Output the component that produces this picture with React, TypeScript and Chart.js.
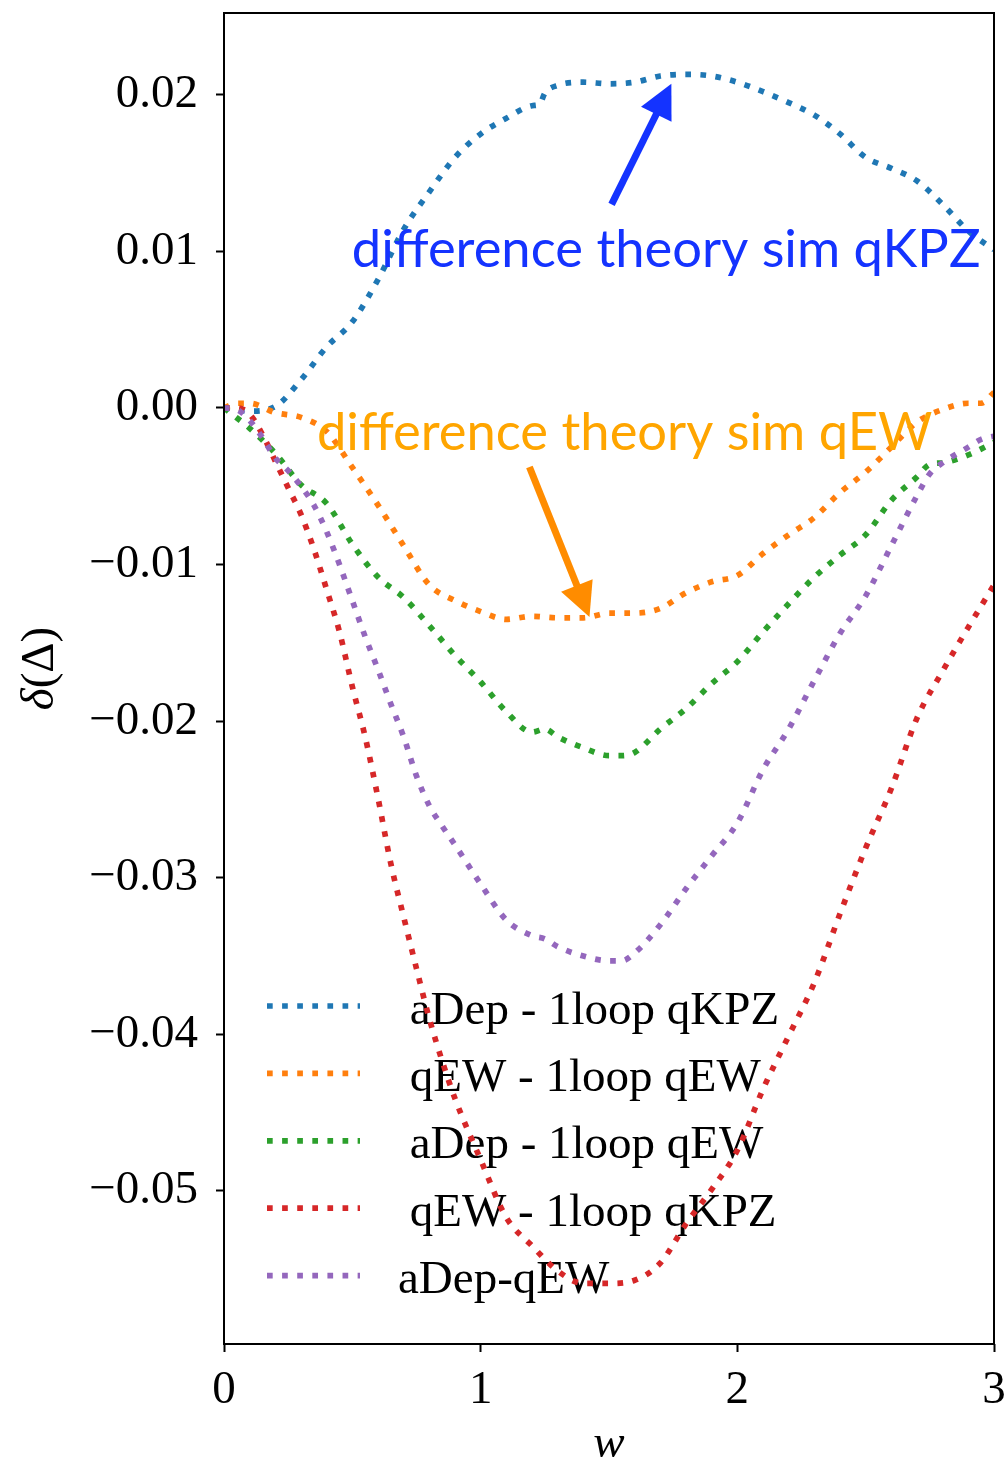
import React, { useEffect, useRef } from "react";
import { Chart, registerables } from "chart.js";

Chart.register(...registerables);

// aDep - 1loop qKPZ
const kpzDepW = [0, 0.1, 0.2, 0.3, 0.4, 0.5, 0.6, 0.7, 0.8, 0.9, 1.0, 1.1, 1.2, 1.23, 1.25, 1.3, 1.4, 1.5, 1.6, 1.7, 1.8, 1.9, 2.0, 2.1, 2.2, 2.3, 2.4, 2.5, 2.6, 2.7, 2.8, 2.9, 3.0];
const kpzDepDelta = [0, -0.0002, 0.0001, 0.0018, 0.0039, 0.0055, 0.0082, 0.0114, 0.0138, 0.016, 0.0175, 0.0185, 0.0193, 0.0194, 0.0201, 0.0206, 0.0208, 0.0207, 0.0208, 0.0212, 0.0213, 0.0212, 0.0208, 0.0202, 0.0195, 0.0187, 0.0175, 0.016, 0.0153, 0.0145, 0.013, 0.0113, 0.0101];

// qEW - 1loop qEW
const qewQewW = [0, 0.05, 0.1, 0.2, 0.3, 0.4, 0.5, 0.6, 0.7, 0.8, 0.9, 1.0, 1.1, 1.2, 1.3, 1.4, 1.5, 1.6, 1.7, 1.8, 1.9, 2.0, 2.1, 2.2, 2.3, 2.4, 2.5, 2.6, 2.7, 2.8, 2.9, 2.95, 3.0];
const qewQewDelta = [0, 0.0003, 0.0003, -0.0003, -0.0006, -0.0015, -0.0038, -0.0062, -0.0088, -0.0113, -0.0123, -0.013, -0.0135, -0.0133, -0.0134, -0.0134, -0.0131, -0.0131, -0.0128, -0.0118, -0.0111, -0.0107, -0.0093, -0.0081, -0.007, -0.0054, -0.0041, -0.0025, -0.0009, -0.0001, 0.0003, 0.0003, 0.001];

// aDep - 1loop qEW
const depQewW = [0, 0.1, 0.2, 0.3, 0.4, 0.5, 0.6, 0.7, 0.8, 0.9, 1.0, 1.1, 1.2, 1.25, 1.3, 1.4, 1.5, 1.55, 1.6, 1.7, 1.8, 1.9, 2.0, 2.1, 2.2, 2.3, 2.4, 2.5, 2.6, 2.7, 2.75, 2.8, 2.9, 3.0];
const depQewDelta = [0, -0.0013, -0.0029, -0.0049, -0.0061, -0.0087, -0.0108, -0.0121, -0.0139, -0.0158, -0.0175, -0.0194, -0.0207, -0.0205, -0.021, -0.0217, -0.0222, -0.0222, -0.022, -0.0205, -0.0192, -0.0176, -0.0162, -0.0143, -0.0125, -0.0108, -0.0094, -0.0081, -0.0059, -0.0044, -0.0036, -0.0035, -0.003, -0.0022];

// qEW - 1loop qKPZ
const qewKpzW = [0, 0.05, 0.1, 0.15, 0.2, 0.25, 0.3, 0.35, 0.4, 0.45, 0.5, 0.55, 0.6, 0.65, 0.7, 0.75, 0.8, 0.85, 0.9, 1.0, 1.1, 1.2, 1.3, 1.4, 1.5, 1.6, 1.7, 1.8, 1.9, 2.0, 2.1, 2.2, 2.3, 2.4, 2.5, 2.6, 2.7, 2.8, 2.9, 3.0];
const qewKpzDelta = [0, 0, -0.0004, -0.0017, -0.0034, -0.0051, -0.0068, -0.009, -0.0116, -0.0143, -0.0178, -0.021, -0.0249, -0.0291, -0.0325, -0.0358, -0.039, -0.0417, -0.0441, -0.048, -0.0517, -0.0535, -0.0551, -0.0559, -0.0559, -0.0557, -0.0546, -0.0521, -0.0499, -0.0474, -0.0435, -0.0401, -0.0367, -0.0323, -0.0281, -0.0243, -0.0198, -0.0168, -0.014, -0.0113];

// aDep-qEW
const depEwW = [0, 0.05, 0.1, 0.15, 0.2, 0.25, 0.3, 0.35, 0.4, 0.45, 0.5, 0.55, 0.6, 0.65, 0.7, 0.75, 0.8, 0.85, 0.9, 1.0, 1.1, 1.2, 1.25, 1.3, 1.4, 1.5, 1.55, 1.6, 1.7, 1.8, 1.9, 2.0, 2.1, 2.2, 2.3, 2.4, 2.5, 2.6, 2.7, 2.75, 2.8, 2.9, 2.95, 3.0];
const depEwDelta = [0, -0.0001, -0.0008, -0.0019, -0.0032, -0.004, -0.005, -0.0062, -0.0079, -0.01, -0.0123, -0.0146, -0.0167, -0.0189, -0.021, -0.0235, -0.0254, -0.0267, -0.0279, -0.0304, -0.0327, -0.0337, -0.0339, -0.0344, -0.035, -0.0353, -0.0353, -0.0348, -0.033, -0.0307, -0.0286, -0.0265, -0.0231, -0.0205, -0.0174, -0.0144, -0.012, -0.0088, -0.0056, -0.0042, -0.0035, -0.0025, -0.002, -0.0018];

const seriesLabels = [" aDep - 1loop qKPZ", " qEW - 1loop qEW", " aDep - 1loop qEW", " qEW - 1loop qKPZ", "aDep-qEW"];
const seriesColors = ["#1f77b4", "#ff7f0e", "#2ca02c", "#d62728", "#9467bd"];
const seriesW = [kpzDepW, qewQewW, depQewW, qewKpzW, depEwW];
const seriesDelta = [kpzDepDelta, qewQewDelta, depQewDelta, qewKpzDelta, depEwDelta];

const wTicks = [0, 1, 2, 3];
const deltaTicks = [-0.05, -0.04, -0.03, -0.02, -0.01, 0, 0.01, 0.02];

// text annotations with arrows (data coordinates)
const notes = [
  { text: "difference theory sim qKPZ", color: "#1433ff", arrowColor: "#1433ff", at: [0.498, 0.009], tail: [1.51, 0.013], tip: [1.743, 0.0207] },
  { text: "difference theory sim qEW", color: "#ffa500", arrowColor: "#ff8c00", at: [0.362, -0.00268], tail: [1.19, -0.00377], tip: [1.424, -0.01335] },
];

const LW = 5.7;
const DASH = [LW, LW * 1.65];
const SERIF = "'Liberation Serif', 'DejaVu Serif', serif";
const FS = 47;

const fmtTick = (v: number) => {
  const s = Math.abs(v).toFixed(2);
  return v < -1e-9 ? "\u2212" + s : s;
};

function drawArrow(ctx: CanvasRenderingContext2D, x0: number, y0: number, x1: number, y1: number, color: string) {
  const dx = x1 - x0;
  const dy = y1 - y0;
  const len = Math.hypot(dx, dy);
  const ux = dx / len;
  const uy = dy / len;
  const headLen = 34;
  const headHalf = 17;
  const bx = x1 - ux * headLen;
  const by = y1 - uy * headLen;
  ctx.save();
  ctx.strokeStyle = color;
  ctx.fillStyle = color;
  ctx.lineWidth = 7;
  ctx.lineCap = "butt";
  ctx.beginPath();
  ctx.moveTo(x0, y0);
  ctx.lineTo(bx + ux * 2, by + uy * 2);
  ctx.stroke();
  ctx.beginPath();
  ctx.moveTo(x1, y1);
  ctx.lineTo(bx - uy * headHalf, by + ux * headHalf);
  ctx.lineTo(bx + uy * headHalf, by - ux * headHalf);
  ctx.closePath();
  ctx.fill();
  ctx.restore();
}

const overlayPlugin = {
  id: "overlay",
  beforeDatasetsDraw(chart: any) {
    const ctx: CanvasRenderingContext2D = chart.ctx;
    const area = chart.chartArea;
    const x0 = area.left + 43;
    const x1 = area.left + 136;
    const textX = area.left + 174;
    const y0 = area.bottom - 338;
    const step = 67.4;
    ctx.save();
    seriesLabels.forEach((label, i) => {
      const y = y0 + i * step;
      ctx.strokeStyle = seriesColors[i];
      ctx.lineWidth = LW;
      ctx.lineCap = "butt";
      ctx.setLineDash(DASH);
      ctx.beginPath();
      ctx.moveTo(x0, y);
      ctx.lineTo(x1, y);
      ctx.stroke();
      ctx.setLineDash([]);
      ctx.fillStyle = "#000";
      ctx.font = `${FS}px ${SERIF}`;
      ctx.textAlign = "left";
      ctx.textBaseline = "alphabetic";
      ctx.fillText(label, textX, y + 17.5);
    });
    ctx.restore();
  },
  afterDatasetsDraw(chart: any) {
    const ctx: CanvasRenderingContext2D = chart.ctx;
    const xs = chart.scales.x;
    const ys = chart.scales.y;
    const area = chart.chartArea;
    notes.forEach((n) => {
      ctx.save();
      ctx.fillStyle = n.color;
      ctx.font = `52.5px Lato, 'Open Sans', sans-serif`;
      ctx.textAlign = "left";
      ctx.textBaseline = "alphabetic";
      ctx.fillText(n.text, xs.getPixelForValue(n.at[0]), ys.getPixelForValue(n.at[1]));
      ctx.restore();
      drawArrow(
        ctx,
        xs.getPixelForValue(n.tail[0]),
        ys.getPixelForValue(n.tail[1]),
        xs.getPixelForValue(n.tip[0]),
        ys.getPixelForValue(n.tip[1]),
        n.arrowColor
      );
    });
    ctx.save();
    ctx.strokeStyle = "#000";
    ctx.lineWidth = 2;
    ctx.strokeRect(area.left, area.top, area.right - area.left, area.bottom - area.top);
    ctx.restore();
  },
  afterDraw(chart: any) {
    const ctx: CanvasRenderingContext2D = chart.ctx;
    const area = chart.chartArea;
    ctx.save();
    ctx.fillStyle = "#000";
    ctx.textBaseline = "alphabetic";
    // x axis label
    ctx.font = `italic ${FS}px ${SERIF}`;
    ctx.textAlign = "center";
    ctx.fillText("w", (area.left + area.right) / 2, chart.height - 6);
    // y axis label: δ(Δ)
    const italic = `italic ${FS}px ${SERIF}`;
    const upright = `${FS}px ${SERIF}`;
    ctx.font = italic;
    const w1 = ctx.measureText("\u03b4").width;
    ctx.font = upright;
    const w2 = ctx.measureText("(\u0394)").width;
    const cy = (area.top + area.bottom) / 2 - 10;
    ctx.translate(53, cy);
    ctx.rotate(-Math.PI / 2);
    ctx.textAlign = "left";
    const start = -(w1 + w2) / 2;
    ctx.font = italic;
    ctx.fillText("\u03b4", start, 0);
    ctx.font = upright;
    ctx.fillText("(\u0394)", start + w1, 0);
    ctx.restore();
  },
};

const noEdgePadding = (s: any) => {
  s.paddingTop = 0;
  s.paddingBottom = 0;
  s.paddingLeft = 0;
  s.paddingRight = 0;
};

export default function App() {
  const canvasRef = useRef<HTMLCanvasElement | null>(null);

  useEffect(() => {
    const canvas = canvasRef.current;
    if (!canvas) return;
    const datasets = seriesLabels.map((label, i) => ({
      label,
      data: seriesW[i].map((w, k) => ({ x: w, y: seriesDelta[i][k] })),
      borderColor: seriesColors[i],
      backgroundColor: seriesColors[i],
      borderWidth: LW,
      borderDash: DASH,
      borderCapStyle: "butt" as const,
      pointRadius: 0,
      fill: false,
      cubicInterpolationMode: "monotone" as const,
      order: seriesLabels.length - i,
    }));

    const tickFont = { family: SERIF, size: FS };
    const chart = new Chart(canvas, {
      type: "line",
      data: { datasets },
      options: {
        animation: false,
        responsive: false,
        devicePixelRatio: 1,
        layout: { padding: { left: 0, right: 14, top: 13, bottom: 0 } },
        plugins: { legend: { display: false }, tooltip: { enabled: false } },
        scales: {
          x: {
            type: "linear",
            min: 0,
            max: 3,
            afterBuildTicks: (s: any) => {
              s.ticks = wTicks.map((v) => ({ value: v }));
            },
            afterFit: (s: any) => {
              s.height = 119;
              noEdgePadding(s);
            },
            grid: { drawOnChartArea: false, drawTicks: true, tickLength: 8, tickWidth: 2, tickColor: "#000" },
            border: { display: false },
            ticks: { font: tickFont, color: "#000", padding: 10, maxRotation: 0, callback: (v: any) => String(v) },
          },
          y: {
            type: "linear",
            min: -0.05977,
            max: 0.02522,
            afterBuildTicks: (s: any) => {
              s.ticks = deltaTicks.map((v) => ({ value: v }));
            },
            afterFit: (s: any) => {
              s.width = 224;
              noEdgePadding(s);
            },
            grid: { drawOnChartArea: false, drawTicks: true, tickLength: 8, tickWidth: 2, tickColor: "#000" },
            border: { display: false },
            ticks: { font: tickFont, color: "#000", padding: 18, callback: (v: any) => fmtTick(Number(v)) },
          },
        },
      },
      plugins: [overlayPlugin],
    });
    return () => chart.destroy();
  }, []);

  return (
    <div style={{ position: "absolute", left: 0, top: 0, width: 1008, height: 1463, background: "#fff" }}>
      <canvas ref={canvasRef} width={1008} height={1463} style={{ display: "block" }} />
    </div>
  );
}
